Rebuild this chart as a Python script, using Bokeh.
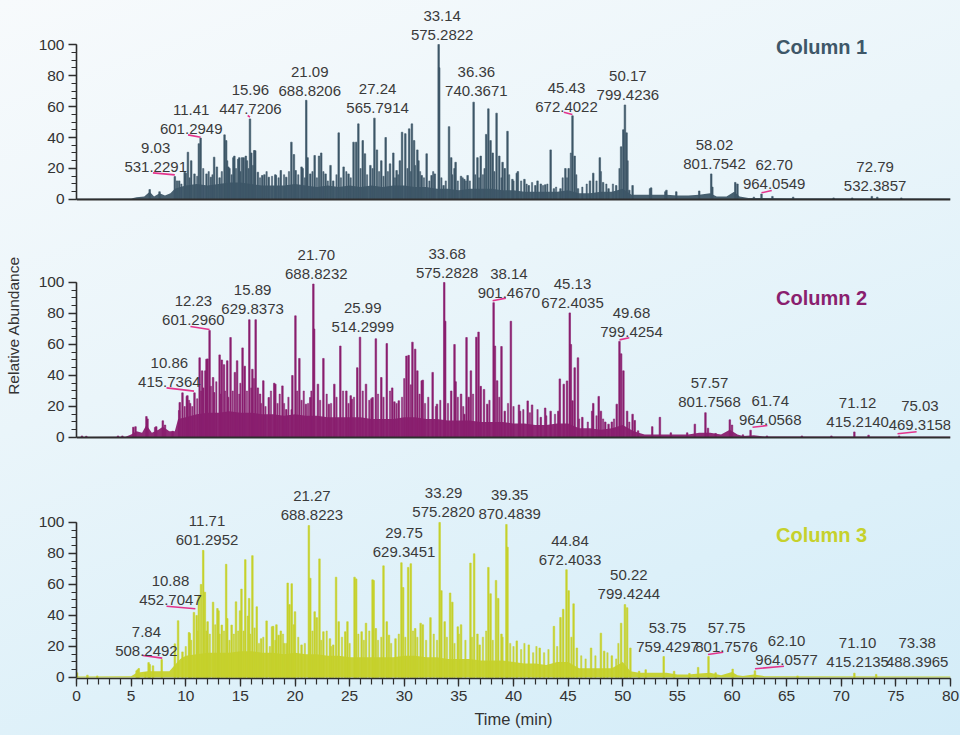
from bokeh.plotting import figure
from bokeh.layouts import column
from bokeh.models import Range1d, Span, FixedTicker, GlobalInlineStyleSheet
from bokeh.embed import file_html
from bokeh.resources import INLINE
from bokeh.core.properties import value

# ---------------- data ----------------
X_TICKS = list(range(0, 81, 5))
X_MINOR = list(range(0, 81, 1))
Y_TICKS = [0, 20, 40, 60, 80, 100]
Y_MINOR = list(range(0, 101, 5))
TITLES = ["Column 1", "Column 2", "Column 3"]
COLORS = ["#3e5768", "#8a1f6f", "#c6d12c"]

# (retention time [min], relative abundance) - main peaks
PEAKS1 = [(6.7, 6.4), (7.6, 5), (9.0, 14.8), (9.2, 12), (9.4, 12), (9.9, 17.6), (10.0, 17), (10.2, 30.5),
          (10.5, 25), (10.8, 16.5), (11.2, 36), (11.36, 39.6), (11.9, 16.5), (12.3, 14.4), (12.6, 27.3),
          (12.85, 21), (13.1, 14), (13.55, 41.7), (13.7, 38), (13.9, 21), (14.0, 20), (14.36, 27), (14.45, 28),
          (14.8, 26), (14.9, 27), (15.15, 27), (15.3, 27), (15.5, 28), (15.6, 25), (15.88, 52), (16.0, 30),
          (16.27, 31.6), (16.36, 31.5), (16.6, 17.6), (17.0, 15.5), (17.2, 16), (17.6, 14.4), (18.2, 16),
          (18.25, 15.5), (18.7, 18.7), (19.2, 14.4), (19.67, 37), (19.9, 29), (20.06, 18.7), (20.6, 21),
          (20.7, 20), (21.03, 64), (21.15, 27), (21.4, 16.5), (21.8, 28.4), (22.2, 28), (22.4, 30), (22.8, 16.5),
          (23.25, 22), (23.5, 12), (24.0, 43), (24.45, 21), (24.9, 16.5), (25.36, 37), (25.6, 37), (25.8, 48.8),
          (26.2, 38), (26.4, 29.5), (26.9, 22), (27.27, 52.5), (27.5, 32), (27.9, 25), (28.3, 40), (28.7, 23),
          (29.0, 30), (29.3, 18.7), (29.6, 25), (29.8, 43.4), (30.1, 42.5), (30.45, 45.6), (30.7, 48.8),
          (30.9, 38), (31.2, 32), (31.3, 25), (31.6, 15.5), (32.05, 29.5), (32.5, 15.5), (32.8, 16.5),
          (33.15, 100), (33.2, 85), (33.6, 9), (34.1, 47), (34.3, 27), (34.6, 20), (34.7, 24), (35.2, 15),
          (35.5, 13), (35.8, 15.5), (36.35, 62.8), (36.7, 27), (37.0, 28), (37.5, 42), (37.7, 58.5), (37.9, 38),
          (38.1, 30), (38.45, 55.7), (38.7, 28), (39.0, 24), (39.2, 20), (39.45, 44), (39.9, 13), (40.3, 17),
          (40.4, 18), (41.0, 13), (41.4, 9), (42.0, 9), (42.2, 12), (42.5, 10), (42.9, 9.5), (43.4, 32),
          (43.7, 7), (44.3, 7), (44.75, 20), (45.05, 20), (45.4, 54), (45.6, 28), (45.9, 7), (47.0, 12),
          (47.3, 17), (47.9, 27), (48.2, 11), (48.7, 7), (49.4, 9), (49.85, 34), (50.05, 45), (50.2, 61),
          (50.35, 43), (50.6, 6), (50.9, 9), (52.5, 7), (52.6, 7.5), (53.9, 5), (54.0, 6), (54.9, 5),
          (57.0, 5.5), (58.1, 16.5), (58.2, 8), (60.3, 11), (60.5, 10), (62.0, 1.5), (62.7, 3.5), (63.7, 2),
          (65.6, 1.5), (69.3, 1), (71.0, 1), (72.8, 2), (73.3, 1.5), (75.5, 1)]

# smaller "grass" peaks between the main ones
MINOR1 = [(9.6, 10), (10.35, 14), (11.05, 15), (11.6, 20), (12.1, 18), (12.45, 16), (13.3, 18), (13.8, 25),
          (14.2, 16), (14.6, 20), (15.0, 18), (15.75, 20), (16.15, 22), (16.8, 14), (17.4, 18), (17.9, 15),
          (18.5, 14), (19.0, 16), (19.45, 18), (20.3, 16), (20.9, 14), (21.6, 18), (22.0, 14), (22.6, 18),
          (23.0, 12), (23.8, 16), (24.2, 14), (24.7, 18), (25.1, 14), (26.0, 20), (26.6, 16), (27.1, 20),
          (27.7, 18), (28.1, 15), (28.5, 18), (29.15, 14), (29.45, 16), (30.3, 20), (30.6, 18), (31.0, 22),
          (31.45, 18), (31.8, 14), (32.3, 12), (32.65, 18), (33.4, 14), (33.8, 12), (34.4, 16), (34.9, 12),
          (35.35, 14), (35.65, 12), (36.0, 12), (36.5, 16), (36.85, 14), (37.2, 16), (37.35, 20), (38.25, 18),
          (38.9, 14), (39.6, 16), (40.0, 12), (40.7, 12), (41.2, 10), (41.7, 11), (42.7, 9), (43.1, 10),
          (43.9, 8), (44.5, 14), (44.9, 14), (45.25, 30), (45.75, 16), (46.3, 8), (46.7, 10), (47.6, 12),
          (48.0, 18), (48.5, 10), (49.1, 10), (49.7, 20), (50.45, 25)]

FLOOR1 = [(0, 0.4), (5, 0.6), (5.5, 1.5), (6.2, 2), (6.7, 5), (7.1, 2), (7.6, 4), (8.1, 2.5), (8.6, 4),
          (9.0, 7), (9.5, 8), (10, 9), (11, 10), (12, 9), (13, 10), (14, 11), (15, 11), (16, 10), (17, 9),
          (18, 9), (19, 9), (20, 10), (21, 9), (22, 8), (23, 9), (24, 8), (25, 9), (26, 8), (27, 9), (28, 8),
          (29, 9), (30, 9), (31, 8), (32, 8), (33, 7), (34, 7), (35, 6), (36, 7), (37, 7), (38, 7), (39, 6),
          (40, 6), (41, 5), (42, 5), (43, 5), (44, 5), (45, 6), (46, 4), (47, 4), (48, 5), (49, 5), (50, 7),
          (50.8, 3), (52, 3), (53, 3), (54, 3), (55, 2.5), (56, 2.5), (57, 3), (58, 4), (58.6, 2), (59.5, 2),
          (60.2, 5), (60.7, 2), (61.5, 1), (65, 0.8), (80, 0.6)]

PEAKS2 = [(0.5, 1), (0.9, 0.8), (3.8, 1), (4.2, 1), (5.2, 6.6), (5.4, 7), (6.4, 13.5), (6.5, 12), (7.2, 6.5),
          (7.3, 7), (7.9, 10.8), (8.1, 8), (8.8, 4), (9.4, 17.4), (9.45, 22.6), (9.7, 28.8), (10.1, 26.5),
          (10.15, 27), (10.4, 22), (10.8, 28.8), (11.27, 51.4), (11.5, 43), (11.6, 32), (11.8, 43), (11.9, 50.5),
          (12.0, 50.7), (12.18, 69), (12.5, 38.7), (12.6, 29), (13.1, 53.3), (13.3, 50), (13.5, 47), (13.8, 49.5),
          (14.1, 64.5), (14.5, 42), (14.7, 49.5), (15.2, 57.8), (15.4, 46), (15.82, 76), (16.1, 44), (16.4, 76),
          (16.6, 32), (16.8, 28), (17.1, 36.6), (17.6, 25.8), (18.1, 35), (18.2, 34.4), (18.85, 33.3),
          (19.2, 18), (19.7, 18), (19.76, 40), (20.04, 78.5), (20.4, 51), (21.0, 21.5), (21.4, 25.8),
          (21.68, 99), (21.75, 70), (22.1, 34.4), (22.6, 51), (23.1, 21.5), (23.6, 34.4), (24.15, 59), (24.7, 30),
          (25.1, 27), (25.2, 24.7), (25.7, 45), (25.95, 64.7), (26.5, 34.4), (27.0, 25), (27.1, 25.8),
          (27.4, 63.7), (27.9, 38.7), (28.4, 60.6), (28.9, 32), (29.1, 23), (29.5, 23.7), (30.2, 52.5),
          (30.4, 53), (30.75, 61.5), (31.0, 57), (31.2, 43), (31.6, 36.6), (31.7, 37), (32.6, 42), (33.0, 21.5),
          (33.66, 100), (33.75, 75), (34.3, 30), (34.6, 60), (34.7, 36), (35.2, 28), (35.5, 15), (35.7, 64.5),
          (35.9, 26), (36.1, 43), (36.6, 64.7), (36.8, 68), (37.0, 33), (37.3, 31), (37.6, 21.5), (38.18, 87),
          (38.3, 59), (38.5, 36.6), (38.9, 58.7), (39.2, 17), (39.76, 75), (40.5, 21), (40.6, 17), (41.3, 23.6),
          (41.7, 21), (42.5, 13), (42.9, 19), (43.4, 17), (44.1, 17), (44.24, 37.8), (44.6, 34.4), (44.9, 36.5),
          (45.15, 80.4), (45.25, 60), (45.4, 23.7), (45.6, 45), (45.9, 51.4), (46.3, 13), (47.2, 17),
          (47.3, 22), (47.8, 26.5), (48.0, 17), (48.4, 10), (48.7, 8.6), (49.0, 10), (49.45, 21.5), (49.7, 62),
          (49.85, 54), (50.06, 43), (50.4, 17), (50.9, 15), (51.1, 11), (51.4, 4.3), (52.7, 7), (53.4, 13),
          (54.4, 3), (55.9, 3), (56.6, 8.6), (57.57, 16), (57.8, 6), (58.5, 2.6), (59.8, 11.4), (60.0, 8),
          (61.0, 1.7), (61.7, 4.7), (63.2, 1), (66.4, 1), (69.1, 1), (71.2, 3.6), (72.5, 1.5), (75.3, 1)]

MINOR2 = [(9.9, 20), (10.3, 24), (10.6, 20), (11.05, 25), (11.4, 30), (12.3, 33), (12.8, 36), (13.2, 28),
          (13.6, 30), (13.9, 26), (14.3, 30), (14.9, 28), (15.0, 35), (15.6, 30), (16.0, 32), (16.25, 38),
          (16.9, 22), (17.3, 20), (17.8, 30), (18.4, 22), (18.6, 28), (19.0, 22), (19.4, 26), (20.2, 30),
          (20.6, 24), (20.8, 30), (21.2, 22), (21.5, 30), (22.3, 24), (22.9, 28), (23.3, 22), (23.8, 26),
          (24.4, 30), (24.9, 22), (25.4, 26), (26.2, 30), (26.8, 24), (27.6, 28), (28.1, 26), (28.7, 30),
          (29.3, 22), (29.8, 26), (30.0, 38), (30.6, 34), (31.4, 28), (31.9, 22), (32.2, 26), (32.9, 20),
          (33.3, 24), (34.0, 22), (34.9, 26), (35.4, 20), (36.3, 28), (37.8, 24), (38.7, 26), (39.5, 22),
          (40.0, 20), (40.9, 18), (41.5, 16), (42.2, 18), (43.0, 14), (43.8, 15), (46.0, 12), (46.8, 10),
          (47.6, 14), (48.2, 12), (49.2, 12), (50.6, 10)]

FLOOR2 = [(0, 0.3), (4.5, 0.5), (5, 2), (5.5, 4), (6, 3), (6.4, 8), (6.9, 3), (7.5, 5), (7.9, 7), (8.5, 4),
          (9, 4), (9.3, 12), (10, 13), (11, 15), (12, 16), (13, 16), (14, 17), (15, 16), (16, 16), (17, 15),
          (18, 15), (19, 14), (20, 15), (21, 14), (22, 14), (23, 13), (24, 13), (25, 13), (26, 13), (27, 12),
          (28, 12), (29, 12), (30, 13), (31, 13), (32, 12), (33, 12), (34, 11), (35, 11), (36, 11), (37, 10),
          (38, 10), (39, 10), (40, 9), (41, 9), (42, 8), (43, 8), (44, 9), (45, 9), (46, 6), (47, 6), (48, 5),
          (49, 6), (50, 8), (51, 4), (52, 2), (54, 2), (56, 2), (57, 3), (58, 3), (59, 2), (59.8, 5), (60.5, 2),
          (61, 1), (62, 1.5), (63, 0.6), (80, 0.5)]

PEAKS3 = [(0.05, 3), (1.0, 1.5), (1.9, 1), (5.5, 4.3), (5.6, 5), (5.7, 5.8), (6.3, 3), (6.6, 9.6), (6.7, 8.4),
          (7.0, 7.5), (7.8, 11.6), (9.0, 21.7), (9.3, 36.6), (9.7, 16.5), (10.3, 29), (10.36, 28.4),
          (10.75, 42), (11.0, 40), (11.2, 53), (11.4, 60), (11.6, 82), (11.75, 55), (12.0, 36), (12.5, 48.6),
          (12.9, 44.5), (13.0, 43), (13.3, 33.8), (13.7, 73), (13.8, 38), (14.2, 33.8), (14.6, 48.8),
          (14.97, 43), (15.1, 57), (15.45, 76), (15.7, 39.6), (15.8, 51), (16.1, 78.6), (16.5, 45.6),
          (16.9, 25), (17.4, 36.5), (17.9, 32.7), (18.0, 33), (18.3, 34), (18.5, 27.3), (18.7, 30), (19.0, 22),
          (19.33, 60.9), (19.5, 47), (19.7, 60.5), (19.9, 34), (20.0, 42.4), (20.6, 21), (21.27, 98),
          (21.4, 64), (21.8, 42.4), (22.0, 38.6), (22.24, 76.5), (22.6, 29.5), (23.2, 25), (23.5, 21),
          (23.76, 64.7), (24.0, 36), (24.6, 29.5), (24.8, 36), (25.45, 64.7), (25.6, 63.6), (26.1, 29.5),
          (26.5, 35), (27.1, 63), (27.2, 62.5), (27.4, 31.6), (28.1, 72), (28.4, 36), (28.6, 27.3), (29.2, 25),
          (29.74, 74), (29.9, 58), (30.36, 71), (30.6, 73.4), (31.0, 31.6), (31.5, 35), (31.7, 34), (32.4, 38.6),
          (33.24, 100), (33.4, 56), (33.7, 36), (34.2, 54.5), (34.4, 48.6), (34.9, 32.7), (35.2, 34),
          (36.06, 73.8), (36.4, 79.8), (36.7, 28), (36.9, 21), (37.7, 71), (37.9, 54), (38.4, 62.6), (38.6, 51),
          (38.9, 28), (39.35, 98.7), (39.45, 84), (40.3, 23.6), (41.4, 21), (42.4, 19), (43.7, 33), (44.3, 38.7),
          (44.55, 44), (44.85, 69.5), (45.05, 56), (45.5, 47.5), (45.8, 19), (47.1, 19), (48.0, 28.6),
          (48.3, 17), (49.0, 14), (49.85, 35), (50.2, 47), (50.4, 45), (50.7, 19), (51.5, 4), (52.1, 5),
          (53.75, 13.5), (54.7, 4), (56.1, 2.6), (56.9, 6.5), (57.85, 13.5), (58.5, 3), (60.06, 5.4),
          (62.1, 4.3), (66.0, 1), (71.2, 2.8), (73.2, 2)]

MINOR3 = [(10.0, 20), (10.5, 24), (11.1, 30), (11.9, 30), (12.2, 28), (12.7, 34), (13.1, 28), (13.5, 30),
          (14.0, 24), (14.4, 28), (14.8, 30), (15.3, 30), (15.9, 28), (16.3, 32), (16.7, 22), (17.1, 26),
          (17.7, 20), (18.2, 24), (18.9, 28), (19.2, 22), (20.3, 26), (20.9, 22), (21.6, 30), (22.4, 24),
          (22.9, 30), (23.3, 20), (24.3, 26), (25.0, 22), (25.8, 28), (26.3, 24), (26.8, 30), (27.6, 24),
          (27.9, 26), (28.8, 22), (29.5, 28), (30.1, 26), (30.8, 30), (31.2, 26), (32.0, 24), (32.7, 28),
          (33.0, 24), (33.9, 26), (34.6, 22), (35.0, 28), (35.6, 24), (36.2, 26), (37.2, 26), (37.5, 30),
          (38.1, 24), (39.0, 26), (39.7, 22), (40.0, 20), (40.7, 18), (41.0, 22), (41.8, 16), (42.1, 20),
          (42.8, 16), (43.2, 18), (44.0, 20), (45.3, 26), (46.2, 14), (46.6, 12), (47.5, 14), (48.6, 16),
          (49.4, 12), (49.6, 22)]

FLOOR3 = [(0, 0.8), (0.3, 0.6), (5, 0.8), (5.5, 3), (6.5, 4), (7.5, 4), (8.5, 4), (9, 8), (9.5, 12),
          (10, 14), (11, 15), (12, 16), (13, 16), (14, 16), (15, 17), (16, 17), (17, 16), (18, 16), (19, 15),
          (20, 16), (21, 15), (22, 15), (23, 14), (24, 14), (25, 13), (26, 13), (27, 13), (28, 13), (29, 13),
          (30, 14), (31, 14), (32, 13), (33, 13), (34, 12), (35, 12), (36, 12), (37, 11), (38, 11), (39, 11),
          (40, 10), (41, 9), (42, 9), (43, 8), (44, 10), (45, 10), (46, 6), (47, 6), (48, 6), (49, 6), (50, 10),
          (50.7, 4), (51.5, 3), (53, 3), (54, 3), (55, 2), (56, 2), (57, 2.5), (58, 3), (59, 1.5), (60, 3.5),
          (60.5, 1.5), (61, 1), (62, 2), (63, 0.8), (80, 0.7)]

# (retention time label, m/z label, label centre x [min], label m/z-line y [%])
LABELS1 = [("9.03", "531.2291", 7.25, 20.8), ("11.41", "601.2949", 10.5, 45.6),
           ("15.96", "447.7206", 15.92, 58.5), ("21.09", "688.8206", 21.35, 70.3),
           ("27.24", "565.7914", 27.56, 58.9), ("33.14", "575.2822", 33.47, 106.2),
           ("36.36", "740.3671", 36.6, 69.9), ("45.43", "672.4022", 44.85, 60.0),
           ("50.17", "799.4236", 50.47, 67.5), ("58.02", "801.7542", 58.4, 23.0),
           ("62.70", "964.0549", 63.86, 10.1), ("72.79", "532.3857", 73.1, 9.0)]
LABELS2 = [("10.86", "415.7364", 8.5, 35.7), ("12.23", "601.2960", 10.7, 75.9),
           ("15.89", "629.8373", 16.12, 83.0), ("21.70", "688.8232", 21.95, 105.6),
           ("25.99", "514.2999", 26.2, 71.2), ("33.68", "575.2828", 33.93, 106.3),
           ("38.14", "901.4670", 39.58, 93.1), ("45.13", "672.4035", 45.4, 86.6),
           ("49.68", "799.4254", 50.8, 68.0), ("57.57", "801.7568", 57.94, 22.8),
           ("61.74", "964.0568", 63.5, 11.6), ("71.12", "415.2140", 71.5, 10.3),
           ("75.03", "469.3158", 77.2, 8.2)]
LABELS3 = [("7.84", "508.2492", 6.4, 17.4), ("10.88", "452.7047", 8.6, 50.3),
           ("11.71", "601.2952", 11.95, 88.8), ("21.27", "688.8223", 21.55, 104.5),
           ("29.75", "629.3451", 29.98, 80.9), ("33.29", "575.2820", 33.6, 106.7),
           ("39.35", "870.4839", 39.65, 105.6), ("44.84", "672.4033", 45.17, 75.9),
           ("50.22", "799.4244", 50.56, 54.0), ("53.75", "759.4297", 54.1, 19.6),
           ("57.75", "801.7576", 59.5, 19.6), ("62.10", "964.0577", 65.0, 11.6),
           ("71.10", "415.2135", 71.5, 9.9), ("73.38", "488.3965", 76.95, 9.9)]

# leader lines (x0, y0, x1, y1)
LEADERS1 = [(7.0, 17.2, 9.0, 15.9), (10.21, 41.7, 11.36, 40.2), (15.67, 54.2, 15.88, 53.1),
            (44.6, 56.3, 45.39, 54.8), (62.7, 4.3, 63.64, 5.8)]
LEADERS2 = [(8.24, 32.0, 10.76, 29.9), (10.43, 71.6, 12.18, 69.7), (38.09, 88.2, 39.3, 89.9),
            (49.7, 63.0, 50.6, 64.3), (61.88, 6.6, 63.24, 7.7), (75.15, 2.4, 76.9, 3.7)]
LEADERS3 = [(6.06, 14.2, 7.85, 12.5), (8.24, 46.0, 10.88, 44.3), (57.8, 14.8, 59.2, 16.3),
            (62.1, 5.6, 64.76, 7.3)]

# ---------------- styling ----------------
FONT = "Liberation Sans"
TXT = "#3a3a3a"
AXC = "#2e2e2e"
PINK = "#e3338c"

xr = Range1d(0, 80)


def style_axis(ax, minor_out):
    ax.axis_line_color = AXC
    ax.axis_line_width = 1.6
    ax.major_tick_line_color = AXC
    ax.minor_tick_line_color = AXC
    ax.major_tick_line_width = 1.3
    ax.minor_tick_line_width = 1.2
    ax.major_tick_out = 8
    ax.major_tick_in = 0
    ax.minor_tick_out = minor_out
    ax.minor_tick_in = 0
    ax.major_label_text_font = FONT
    ax.major_label_text_font_size = "15.5px"
    ax.major_label_text_color = "#333333"
    ax.major_label_standoff = 4


def panel(idx, peaks, minor, floor, labels, leaders, title_xy, frame_h, yr, bottom_axis, ylabel_alpha):
    p = figure(frame_width=874, frame_height=frame_h, x_range=xr, y_range=Range1d(*yr),
               output_backend="svg", toolbar_location=None,
               x_axis_location="below" if bottom_axis else None,
               min_border_left=76, min_border_right=10, min_border_top=0,
               min_border_bottom=55 if bottom_axis else 8)
    p.background_fill_alpha = 0
    p.border_fill_alpha = 0
    p.outline_line_color = None
    p.grid.visible = False
    col = COLORS[idx]

    p.varea(x=[a for a, _ in floor], y1=0, y2=[b for _, b in floor], fill_color=col, fill_alpha=0.95)
    p.vbar(x=[a for a, _ in minor], top=[b for _, b in minor], bottom=0, width=0.12,
           fill_color=col, line_color=col, line_width=0.5, fill_alpha=0.9, line_alpha=0.9)
    p.vbar(x=[a for a, _ in peaks], top=[b for _, b in peaks], bottom=0, width=0.14,
           fill_color=col, line_color=col, line_width=0.6)

    if not bottom_axis:
        p.add_layout(Span(location=0, dimension="width", line_color=AXC, line_width=2))

    p.segment(x0=[l[0] for l in leaders], y0=[l[1] for l in leaders],
              x1=[l[2] for l in leaders], y1=[l[3] for l in leaders],
              line_color=PINK, line_width=1.6)

    lx = [l[2] for l in labels]
    ly = [l[3] for l in labels]
    p.text(x=lx, y=ly, text=[l[1] for l in labels], text_align="center", text_baseline="middle",
           text_font=value(FONT), text_font_size="15px", text_color=TXT)
    p.text(x=lx, y=ly, text=[l[0] for l in labels], text_align="center", text_baseline="middle",
           y_offset=-19, text_font=value(FONT), text_font_size="15px", text_color=TXT)

    p.text(x=[title_xy[0]], y=[title_xy[1]], text=[TITLES[idx]], text_align="center",
           text_baseline="middle", text_font=value(FONT), text_font_style="bold",
           text_font_size="20px", text_color=col)

    ya = p.yaxis[0]
    ya.bounds = (0, 100)
    ya.ticker = FixedTicker(ticks=Y_TICKS, minor_ticks=Y_MINOR)
    style_axis(ya, 5)
    ya.axis_label = "Relative Abundance"
    ya.axis_label_text_font = FONT
    ya.axis_label_text_font_style = "normal"
    ya.axis_label_text_font_size = "15.5px"
    ya.axis_label_text_color = "#333333"
    ya.axis_label_text_alpha = ylabel_alpha
    ya.axis_label_standoff = 14

    if bottom_axis:
        xa = p.xaxis[0]
        xa.ticker = FixedTicker(ticks=X_TICKS, minor_ticks=X_MINOR)
        style_axis(xa, 6)
        xa.axis_label = "Time (min)"
        xa.axis_label_text_font = FONT
        xa.axis_label_text_font_style = "normal"
        xa.axis_label_text_font_size = "16.5px"
        xa.axis_label_text_color = "#333333"
        xa.axis_label_standoff = 6
    return p


p1 = panel(0, PEAKS1, MINOR1, FLOOR1, LABELS1, LEADERS1, (68.2, 98.7), 202, (-1.94, 128.4), False, 0)
p2 = panel(1, PEAKS2, MINOR2, FLOOR2, LABELS2, LEADERS2, (68.2, 90.3), 230, (-1.94, 146.45), False, 1)
p3 = panel(2, PEAKS3, MINOR3, FLOOR3, LABELS3, LEADERS3, (68.2, 91.6), 230, (-0.65, 147.7), True, 0)

bg = GlobalInlineStyleSheet(css="html{min-height:100%;background:linear-gradient(160deg,#f7fafc 0%,#eaf5fa 40%,#dcf0f9 75%,#d3ecf8 100%) fixed;} body{background:transparent;}")
layout = column(p1, p2, p3, spacing=0, stylesheets=[bg])

open("out.html", "w").write(file_html(layout, INLINE))
